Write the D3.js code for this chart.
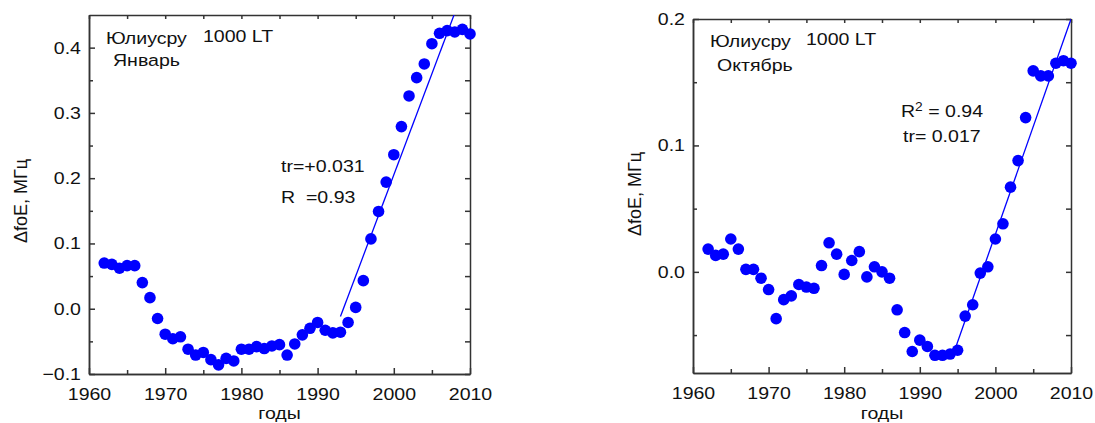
<!DOCTYPE html>
<html>
<head>
<meta charset="utf-8">
<script src="https://cdn.jsdelivr.net/npm/d3@7"></script>
<style>
  body { margin: 0; background: #fff; }
  svg { display: block; font-family: "Liberation Sans", Arial, sans-serif; }
  .axis path, .axis line { stroke: #333; stroke-width: 1.5; }
  .axis text { fill: #111; font-size: 17px; font-family: "Liberation Sans", Arial, sans-serif; }
  .note { fill: #111; font-size: 17px; white-space: pre; }
</style>
</head>
<body>
<div id="chart"></div>
<script>
const width = 1095, height = 423;

const years = [1962, 1963, 1964, 1965, 1966, 1967, 1968, 1969, 1970,
  1971, 1972, 1973, 1974, 1975, 1976, 1977, 1978, 1979, 1980,
  1981, 1982, 1983, 1984, 1985, 1986, 1987, 1988, 1989, 1990,
  1991, 1992, 1993, 1994, 1995, 1996, 1997, 1998, 1999, 2000,
  2001, 2002, 2003, 2004, 2005, 2006, 2007, 2008, 2009, 2010];

// январь, 1000 LT
const janValues = [0.070, 0.068, 0.062, 0.066, 0.066, 0.040, 0.017, -0.015, -0.039,
  -0.046, -0.043, -0.062, -0.071, -0.067, -0.078, -0.086, -0.076, -0.080, -0.062,
  -0.062, -0.058, -0.061, -0.057, -0.055, -0.071, -0.054, -0.040, -0.030, -0.021,
  -0.033, -0.037, -0.036, -0.021, 0.002, 0.043, 0.107, 0.149, 0.194, 0.236,
  0.279, 0.326, 0.354, 0.375, 0.406, 0.422, 0.426, 0.424, 0.428, 0.421];

// октябрь, 1000 LT
const octValues = [0.018, 0.013, 0.014, 0.026, 0.018, 0.002, 0.002, -0.005, -0.014,
  -0.037, -0.022, -0.019, -0.010, -0.012, -0.013, 0.005, 0.023, 0.014, -0.002,
  0.009, 0.016, -0.004, 0.004, 0.000, -0.005, -0.030, -0.048, -0.063, -0.054,
  -0.059, -0.066, -0.066, -0.065, -0.062, -0.035, -0.026, -0.001, 0.004, 0.026,
  0.038, 0.067, 0.088, 0.122, 0.159, 0.155, 0.155, 0.165, 0.167, 0.165];

const janTrendYears = [1993, 2010], janTrendValues = [-0.012, 0.515];
const octTrendYears = [1994.5, 2010], octTrendValues = [-0.064, 0.2];

const xTicks = [1960, 1970, 1980, 1990, 2000, 2010];
const xMinor = [1965, 1975, 1985, 1995, 2005];
const janYTicks = [-0.1, 0.0, 0.1, 0.2, 0.3, 0.4];
const janYMinor = [-0.05, 0.05, 0.15, 0.25, 0.35];
const octYTicks = [0.0, 0.1, 0.2];
const octYMinor = [-0.05, 0.05, 0.15];

const svg = d3.select('#chart').append('svg')
  .attr('width', width)
  .attr('height', height);

const stretch = 'scale(1.15,1)';

function drawPanel(opt) {
  const x = d3.scaleLinear().domain([1960, 2010]).range([opt.left, opt.right]);
  const y = d3.scaleLinear().domain(opt.yDomain).range([opt.bottom, opt.top]);
  const g = svg.append('g');

  const fmt = d3.format('.1f');

  // major + minor ticks, all pointing inward
  g.append('g').attr('class', 'axis')
    .attr('transform', `translate(0,${opt.bottom})`)
    .call(d3.axisBottom(x).tickValues(xTicks).tickFormat(d3.format('d'))
      .tickSizeInner(-6).tickSizeOuter(0).tickPadding(14));
  g.append('g').attr('class', 'axis')
    .attr('transform', `translate(0,${opt.bottom})`)
    .call(d3.axisBottom(x).tickValues(xMinor).tickFormat('').tickSizeInner(-4).tickSizeOuter(0));
  g.append('g').attr('class', 'axis')
    .attr('transform', `translate(0,${opt.top})`)
    .call(d3.axisTop(x).tickValues(xTicks.concat(xMinor)).tickFormat('').tickSizeInner(-4).tickSizeOuter(0));

  g.append('g').attr('class', 'axis')
    .attr('transform', `translate(${opt.left},0)`)
    .call(d3.axisLeft(y).tickValues(opt.yTicks).tickFormat(fmt)
      .tickSizeInner(-6).tickSizeOuter(0).tickPadding(7));
  g.append('g').attr('class', 'axis')
    .attr('transform', `translate(${opt.left},0)`)
    .call(d3.axisLeft(y).tickValues(opt.yMinor).tickFormat('').tickSizeInner(-4).tickSizeOuter(0));
  g.append('g').attr('class', 'axis')
    .attr('transform', `translate(${opt.right},0)`)
    .call(d3.axisRight(y).tickValues(opt.yTicks.concat(opt.yMinor)).tickFormat('')
      .tickSizeInner(-5).tickSizeOuter(0));

  g.selectAll('.axis text').attr('transform', stretch);

  // trend line clipped to the frame
  const clipId = 'clip-' + opt.name;
  svg.append('clipPath').attr('id', clipId)
    .append('rect')
    .attr('x', opt.left).attr('y', opt.top)
    .attr('width', opt.right - opt.left).attr('height', opt.bottom - opt.top);

  const line = d3.line().x(d => x(d[0])).y(d => y(d[1]));
  g.append('path')
    .datum(d3.zip(opt.trendYears, opt.trendValues))
    .attr('clip-path', `url(#${clipId})`)
    .attr('d', line)
    .attr('fill', 'none')
    .attr('stroke', '#0000ff')
    .attr('stroke-width', 1.3);

  g.selectAll('circle')
    .data(d3.zip(years, opt.values))
    .enter()
    .append('circle')
    .attr('cx', d => x(d[0]))
    .attr('cy', d => y(d[1]))
    .attr('r', 5.8)
    .attr('fill', '#0000ff');

  // axis titles
  g.append('text')
    .attr('class', 'note')
    .attr('text-anchor', 'middle')
    .attr('transform', `translate(${(opt.left + opt.right) / 2},419) ${stretch}`)
    .text('годы');

  g.append('text')
    .attr('class', 'note')
    .attr('text-anchor', 'middle')
    .attr('transform', `translate(${opt.yLabelX},${opt.yLabelY}) rotate(-90)`)
    .style('font-size', '18px')
    .text('\u0394foE, МГц');

  // notes
  opt.notes.forEach(n => {
    const t = g.append('text')
      .attr('class', 'note')
      .attr('transform', `translate(${n.x},${n.y}) ${stretch}`);
    if (n.sup) {
      t.append('tspan').text(n.text);
      t.append('tspan').attr('dy', -6).style('font-size', '12px').text(n.sup);
      t.append('tspan').attr('dy', 6).text(n.rest);
    } else {
      t.text(n.text);
    }
  });
}

drawPanel({
  name: 'jan',
  left: 89, right: 470, top: 15, bottom: 374,
  yDomain: [-0.1, 0.45],
  yTicks: janYTicks, yMinor: janYMinor,
  values: janValues,
  trendYears: janTrendYears, trendValues: janTrendValues,
  yLabelX: 27, yLabelY: 201,
  notes: [
    { x: 106, y: 44, text: 'Юлиусру' },
    { x: 203, y: 42, text: '1000 LT' },
    { x: 113, y: 66, text: 'Январь' },
    { x: 281, y: 172, text: 'tr=+0.031' },
    { x: 281, y: 203, text: 'R  =0.93' }
  ]
});

drawPanel({
  name: 'oct',
  left: 693, right: 1071, top: 19, bottom: 373,
  yDomain: [-0.08, 0.2],
  yTicks: octYTicks, yMinor: octYMinor,
  values: octValues,
  trendYears: octTrendYears, trendValues: octTrendValues,
  yLabelX: 641, yLabelY: 194,
  notes: [
    { x: 710, y: 47, text: 'Юлиусру' },
    { x: 806, y: 45, text: '1000 LT' },
    { x: 717, y: 71, text: 'Октябрь' },
    { x: 901, y: 117, text: 'R', sup: '2', rest: ' = 0.94' },
    { x: 903, y: 142, text: 'tr= 0.017' }
  ]
});
</script>
</body>
</html>
